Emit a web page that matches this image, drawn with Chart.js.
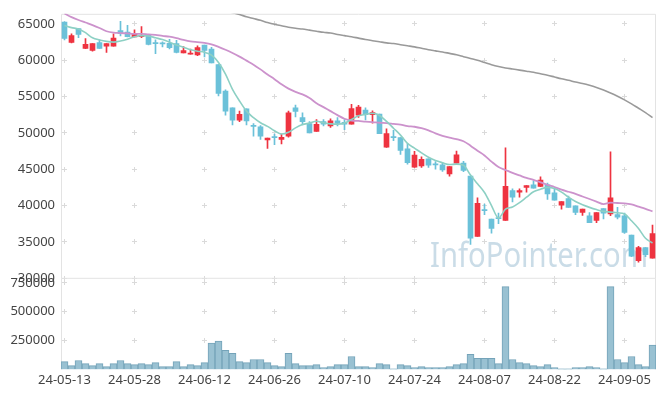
<!DOCTYPE html>
<html>
<head>
<meta charset="utf-8">
<script src="https://cdn.jsdelivr.net/npm/chart.js@4.4.1/dist/chart.umd.min.js"></script>
<style>
    body { margin: 0; background: #fff; }
    #wrap { position: relative; width: 665px; height: 396px; }
    #priceChart { position: absolute; left: 0; top: 0; }
    #volumeChart { position: absolute; left: 0; top: 264px; }
</style>
</head>
<body>
<div id="wrap">
    <canvas id="priceChart" width="665" height="292"></canvas>
    <canvas id="volumeChart" width="665" height="132"></canvas>
</div>
<script>
// trading days
var dates = [
    "24-05-13", "24-05-14", "24-05-16", "24-05-17", "24-05-20", "24-05-21", "24-05-22", "24-05-23", "24-05-24", "24-05-27",
    "24-05-28", "24-05-29", "24-05-30", "24-05-31", "24-06-03", "24-06-04", "24-06-05", "24-06-07", "24-06-10", "24-06-11",
    "24-06-12", "24-06-13", "24-06-14", "24-06-17", "24-06-18", "24-06-19", "24-06-20", "24-06-21", "24-06-24", "24-06-25",
    "24-06-26", "24-06-27", "24-06-28", "24-07-01", "24-07-02", "24-07-03", "24-07-04", "24-07-05", "24-07-08", "24-07-09",
    "24-07-10", "24-07-11", "24-07-12", "24-07-15", "24-07-16", "24-07-17", "24-07-18", "24-07-19", "24-07-22", "24-07-23",
    "24-07-24", "24-07-25", "24-07-26", "24-07-29", "24-07-30", "24-07-31", "24-08-01", "24-08-02", "24-08-05", "24-08-06",
    "24-08-07", "24-08-08", "24-08-09", "24-08-12", "24-08-13", "24-08-14", "24-08-16", "24-08-19", "24-08-20", "24-08-21",
    "24-08-22", "24-08-23", "24-08-26", "24-08-27", "24-08-28", "24-08-29", "24-08-30", "24-09-02", "24-09-03", "24-09-04",
    "24-09-05", "24-09-06", "24-09-09", "24-09-10", "24-09-11"
];

var opens = [
    65250, 62450, 64350, 61650, 61350, 62450, 61950, 61950, 64100, 63900,
    63200, 63250, 63450, 62350, 62300, 62350, 62300, 61000, 60850, 60750,
    62100, 61550, 59400, 55750, 53450, 51750, 53300, 50950, 50850, 49050,
    49400, 49100, 49550, 53450, 52100, 51300, 50200, 51550, 50950, 51650,
    51450, 51200, 52450, 53150, 52500, 52600, 48050, 49400, 49350, 47800,
    45300, 45450, 46450, 45650, 45600, 44350, 45850, 45850, 44050, 35750,
    39350, 38150, 38250, 37950, 42050, 41850, 42500, 42850, 42650, 42850,
    41750, 40050, 40950, 39950, 39050, 38600, 37950, 39600, 38850, 38750,
    38600, 35950, 32400, 34200, 32750
];
var highs = [
    65300, 63650, 64400, 63000, 62300, 62800, 62300, 63650, 65350, 64800,
    64200, 64650, 63550, 62800, 62550, 62900, 62750, 61900, 61550, 62000,
    62100, 61800, 59400, 55950, 53450, 53000, 53300, 51300, 51000, 49300,
    49850, 49850, 53000, 53850, 52750, 51550, 51850, 51850, 51950, 52100,
    51850, 53950, 53800, 53450, 53050, 52600, 50550, 50350, 49350, 48550,
    47450, 46700, 46450, 46050, 45900, 45350, 47500, 46100, 44050, 41050,
    40200, 38150, 38950, 47950, 42300, 42300, 42750, 43400, 43950, 43100,
    42300, 40550, 41300, 39950, 39500, 39050, 39050, 39600, 47400, 39750,
    38950, 35950, 34400, 34200, 37300
];
var lows = [
    62800, 62400, 63100, 61600, 61250, 61650, 61100, 61950, 63350, 63200,
    63200, 63100, 62100, 60900, 61850, 61550, 61000, 61000, 60850, 60650,
    60450, 59650, 55100, 52450, 51100, 51550, 51100, 49550, 49100, 47850,
    48400, 48500, 49400, 52200, 51100, 50000, 50200, 50950, 50750, 50950,
    50450, 51200, 52150, 51800, 51350, 49900, 48000, 48950, 47050, 45700,
    45250, 45250, 45250, 45000, 44700, 44050, 45850, 44650, 34650, 35750,
    38750, 36200, 37500, 37950, 40500, 41150, 41850, 42400, 42600, 40850,
    40750, 39500, 39750, 38750, 38650, 37650, 37650, 38150, 38600, 38150,
    36150, 32950, 32200, 32950, 32750
];
var closes = [
    63000, 63400, 63550, 62200, 62300, 61650, 62300, 63050, 63650, 63250,
    63700, 63450, 62200, 62300, 62250, 61750, 61100, 61350, 60900, 61750,
    61350, 59650, 55450, 53000, 51750, 52550, 51650, 50900, 49550, 49300,
    49350, 49400, 52750, 52950, 51550, 50000, 51200, 51200, 51650, 51300,
    51200, 53350, 53550, 52500, 52800, 49900, 49900, 49350, 47600, 45900,
    46950, 46350, 45550, 45600, 44900, 45350, 47000, 44850, 35500, 40300,
    39300, 36850, 38200, 42650, 41150, 42050, 42750, 42400, 43500, 41600,
    40750, 40550, 39750, 39050, 39500, 37650, 39050, 38950, 41050, 38400,
    36300, 33050, 34200, 33250, 36150
];
var volumes = [
    68000, 33000, 77000, 50000, 33000, 50000, 24000, 50000, 77000, 50000,
    42000, 50000, 42000, 59000, 24000, 24000, 68000, 24000, 42000, 33000,
    59000, 228000, 245000, 166000, 139000, 68000, 59000, 86000, 86000, 59000,
    33000, 24000, 139000, 50000, 33000, 33000, 42000, 15000, 24000, 42000,
    42000, 112000, 24000, 24000, 15000, 50000, 42000, 6000, 42000, 33000,
    15000, 24000, 15000, 15000, 15000, 24000, 42000, 50000, 130000, 95000,
    95000, 95000, 50000, 718000, 86000, 59000, 50000, 33000, 24000, 42000,
    15000, 6000, 6000, 15000, 15000, 24000, 15000, 6000, 718000, 86000,
    59000, 112000, 42000, 24000, 210000
];

// moving averages as drawn (5 / 20 / 60 day)
var ma5 = [
    64800, 64500, 64300, 63800, 63100, 62800, 62600, 62500, 62650, 62900,
    63250, 63400, 63350, 63100, 62850, 62500, 62100, 61800, 61450, 61250,
    61100, 60700, 59700, 58100, 56000, 54400, 53000, 52100, 51400, 50900,
    50300, 49850, 50100, 50700, 51150, 51350, 51600, 51400, 51250, 51200,
    51350, 51850, 52350, 52550, 52700, 52400, 51600, 50650, 49700, 48550,
    47900, 47250, 46650, 46200, 45900, 45650, 45700, 45550, 44200, 43000,
    41800, 40000, 38300, 39500, 39800, 40400, 41150, 41900, 42250, 42500,
    42350, 41850, 41150, 40550, 40100, 39750, 39450, 39200, 39100, 39000,
    38850, 37900, 36850, 35500, 34850
];
var ma20 = [
    66450, 65950, 65550, 65200, 64850, 64450, 64000, 63800, 63750, 63700,
    63650, 63650, 63550, 63500, 63350, 63250, 63050, 62800, 62600, 62500,
    62400, 62200, 61850, 61450, 61000, 60500, 59950, 59400, 58750, 58050,
    57400, 56700, 56100, 55650, 55300, 54800, 54100, 53550, 53000, 52450,
    51950, 51700, 51650, 51550, 51500, 51400, 51350, 51250, 51150, 50950,
    50850, 50650, 50350, 49950, 49600, 49350, 49150, 48850, 48250, 47550,
    46900, 46050, 45300, 44900, 44500, 44150, 43800, 43550, 43200, 42850,
    42550, 42200, 41900, 41600, 41250, 40900, 40550, 40200, 40400, 40350,
    40300, 40150, 39850, 39550, 39200
];
var ma60 = [
    null, null, null, null, null, null, null, null, null, null,
    null, null, null, null, null, null, null, null, null, null,
    null, null, null, 66800, 66550, 66300, 66000, 65750, 65500, 65200,
    64950, 64750, 64550, 64400, 64300, 64150, 64000, 63850, 63750, 63550,
    63400, 63250, 63050, 62850, 62700, 62550, 62400, 62300, 62150, 62000,
    61850, 61650, 61450, 61300, 61150, 60950, 60750, 60500, 60250, 60000,
    59700, 59400, 59150, 58950, 58800, 58650, 58500, 58350, 58150, 57950,
    57700, 57450, 57250, 57000, 56800, 56550, 56250, 55900, 55500, 55050,
    54550, 54000, 53400, 52800, 52100
];

var priceTicks = [30000, 35000, 40000, 45000, 50000, 55000, 60000, 65000];
var volumeTicks = [0, 250000, 500000, 750000];

var upColor = '#ee3340';
var downColor = '#6bc1d9';
var tickFont = { family: '"Noto Sans", sans-serif', size: 13 };
var tickColor = '#444';

var candleColors = closes.map(function (c, i) {
    return c >= opens[i] ? upColor : downColor;
});

// frame + little "+" marks where the grid lines would cross
function gridMarks(yTicks, showZero) {
    return {
        id: 'gridMarks',
        beforeDatasetsDraw: function (chart) {
            var ctx = chart.ctx, a = chart.chartArea;
            var xs = chart.scales.x, ys = chart.scales.y;
            ctx.save();
            ctx.strokeStyle = '#e3e3e3';
            ctx.lineWidth = 1;
            ctx.beginPath();
            ctx.moveTo(a.left + 0.5, a.bottom);
            ctx.lineTo(a.left + 0.5, a.top + 0.5);
            ctx.lineTo(a.right - 0.5, a.top + 0.5);
            ctx.lineTo(a.right - 0.5, a.bottom);
            ctx.stroke();
            ctx.fillStyle = '#dadada';
            for (var i = 0; i < dates.length; i += 10) {
                var px = Math.floor(xs.getPixelForValue(i));
                yTicks.forEach(function (v) {
                    if (v === 0 && !showZero) return;
                    var py = Math.floor(ys.getPixelForValue(v));
                    ctx.fillRect(px - 2, py, 5, 1);
                    ctx.fillRect(px, py - 2, 1, 5);
                });
            }
            ctx.restore();
        }
    };
}

var watermark = {
    id: 'watermark',
    beforeDatasetsDraw: function (chart) {
        var ctx = chart.ctx;
        var text = 'InfoPointer.com';
        ctx.save();
        ctx.font = '35px "Noto Sans", sans-serif';
        ctx.fillStyle = 'rgba(182, 206, 222, 0.72)';
        ctx.textBaseline = 'alphabetic';
        var w = ctx.measureText(text).width;
        var fitW = 218;
        ctx.translate(430, 267);
        ctx.scale(fitW / w, 1);
        ctx.fillText(text, 0, 0);
        ctx.restore();
    }
};

// price chart
new Chart(document.getElementById('priceChart'), {
    type: 'bar',
    data: {
        labels: dates,
        datasets: [{
                type: 'line',
                label: 'MA5',
                data: ma5,
                borderColor: '#8dd0c4',
                borderWidth: 1.6,
                pointRadius: 0,
                cubicInterpolationMode: 'monotone',
                order: 0
            }, {
                type: 'line',
                label: 'MA20',
                data: ma20,
                borderColor: '#cc92cc',
                borderWidth: 1.8,
                pointRadius: 0,
                cubicInterpolationMode: 'monotone',
                order: 0
            }, {
                type: 'line',
                label: 'MA60',
                data: ma60,
                borderColor: '#9a9a9a',
                borderWidth: 1.6,
                pointRadius: 0,
                cubicInterpolationMode: 'monotone',
                order: 0
            }, {
                label: 'body',
                data: opens.map(function (o, i) { return [o, closes[i]]; }),
                backgroundColor: candleColors,
                barThickness: 5,
                minBarLength: 1,
                grouped: false,
                order: 1
            }, {
                label: 'wick',
                data: lows.map(function (l, i) { return [l, highs[i]]; }),
                backgroundColor: candleColors,
                barThickness: 1,
                grouped: false,
                order: 2
            }]
    },
    options: {
        responsive: false,
        animation: false,
        devicePixelRatio: 1,
        layout: { padding: { top: 10, right: 9, bottom: 9, left: 0 } },
        plugins: { legend: { display: false }, tooltip: { enabled: false } },
        scales: {
            x: { display: false, offset: true },
            y: {
                min: 30000,
                max: 66400,
                grid: { display: false, drawTicks: false },
                border: { display: false },
                afterBuildTicks: function (s) {
                    s.ticks = priceTicks.map(function (v) { return { value: v }; });
                },
                afterFit: function (s) { s.width = 61; },
                ticks: {
                    font: tickFont,
                    color: tickColor,
                    padding: 6,
                    callback: function (v) { return String(v); }
                }
            }
        }
    },
    plugins: [gridMarks(priceTicks, true), watermark]
});

// volume chart
new Chart(document.getElementById('volumeChart'), {
    type: 'bar',
    data: {
        labels: dates,
        datasets: [{
                label: 'volume',
                data: volumes,
                backgroundColor: '#99c1d2',
                borderColor: '#74a3b9',
                borderWidth: 1,
                barPercentage: 1,
                categoryPercentage: 1
            }]
    },
    options: {
        responsive: false,
        animation: false,
        devicePixelRatio: 1,
        layout: { padding: { top: 8, right: 9, bottom: 5, left: 0 } },
        plugins: { legend: { display: false }, tooltip: { enabled: false } },
        scales: {
            x: {
                offset: true,
                grid: { display: false, drawTicks: false },
                border: { display: false },
                ticks: {
                    font: tickFont,
                    color: tickColor,
                    padding: 3,
                    autoSkip: false,
                    maxRotation: 0,
                    callback: function (v, i) { return i % 10 === 0 ? dates[i] : ''; }
                }
            },
            y: {
                min: 0,
                max: 795000,
                grid: { display: false, drawTicks: false },
                border: { display: false },
                afterBuildTicks: function (s) {
                    s.ticks = volumeTicks.map(function (v) { return { value: v }; });
                },
                afterFit: function (s) { s.width = 61; },
                ticks: {
                    font: tickFont,
                    color: tickColor,
                    padding: 6,
                    callback: function (v) { return v === 0 ? '' : String(v); }
                }
            }
        }
    },
    plugins: [gridMarks(volumeTicks, false)]
});
</script>
</body>
</html>
